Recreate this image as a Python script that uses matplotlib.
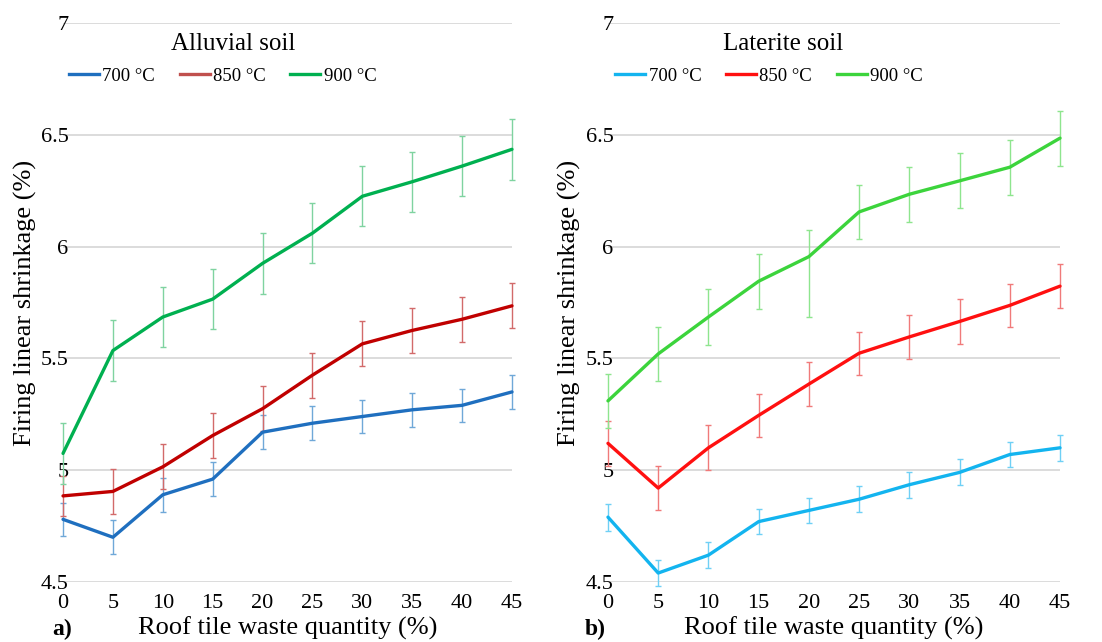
import matplotlib
matplotlib.use("Agg")
import matplotlib.pyplot as plt
from matplotlib.lines import Line2D
import numpy as np

plt.rcParams['font.family'] = ['Liberation Serif', 'DejaVu Serif']

waste = [0, 5, 10, 15, 20, 25, 30, 35, 40, 45]
series_labels = ['700 °C', '850 °C', '900 °C']

# Alluvial soil
alluvial_700 = [4.78, 4.70, 4.89, 4.96, 5.17, 5.21, 5.24, 5.27, 5.29, 5.35]
alluvial_700_err = [0.075, 0.075, 0.077, 0.075, 0.077, 0.075, 0.075, 0.076, 0.074, 0.075]
alluvial_850 = [4.885, 4.905, 5.015, 5.155, 5.275, 5.425, 5.565, 5.625, 5.675, 5.735]
alluvial_850_err = [0.09, 0.10, 0.10, 0.10, 0.10, 0.10, 0.10, 0.10, 0.10, 0.10]
alluvial_900 = [5.075, 5.535, 5.685, 5.765, 5.925, 6.06, 6.225, 6.29, 6.36, 6.435]
alluvial_900_err = [0.135, 0.135, 0.135, 0.135, 0.135, 0.135, 0.135, 0.135, 0.135, 0.135]

# Laterite soil
laterite_700 = [4.79, 4.54, 4.62, 4.77, 4.82, 4.87, 4.935, 4.99, 5.07, 5.10]
laterite_700_err = [0.06, 0.058, 0.058, 0.056, 0.056, 0.058, 0.058, 0.058, 0.058, 0.058]
laterite_850 = [5.12, 4.92, 5.10, 5.245, 5.385, 5.523, 5.596, 5.665, 5.737, 5.823]
laterite_850_err = [0.10, 0.097, 0.10, 0.097, 0.097, 0.097, 0.10, 0.10, 0.097, 0.097]
laterite_900 = [5.31, 5.52, 5.685, 5.845, 5.955, 6.155, 6.234, 6.294, 6.355, 6.485]
laterite_900_err_low = [0.12, 0.12, 0.125, 0.123, 0.27, 0.123, 0.123, 0.123, 0.123, 0.123]
laterite_900_err_high = [0.12, 0.12, 0.125, 0.12, 0.12, 0.122, 0.123, 0.123, 0.122, 0.123]

y_ticks = [4.5, 5, 5.5, 6, 6.5, 7]
y_tick_labels = ['4.5', '5', '5.5', '6', '6.5', '7']

fig = plt.figure(figsize=(11.02, 6.42), dpi=100)

panels = [
    dict(rect=[0.0572, 0.0935, 0.4074, 0.8707], title='Alluvial soil', tag='a)', tagx=0.047,
         lines=[alluvial_700, alluvial_850, alluvial_900],
         errs=[(alluvial_700_err, alluvial_700_err), (alluvial_850_err, alluvial_850_err),
               (alluvial_900_err, alluvial_900_err)],
         colors=['#1f6fbf', '#c00000', '#00b050'],
         legcolors=['#1f6fbf', '#c0504d', '#00b050'],
         errcolors=['#6fa8d8', '#d26a6a', '#7fd3a0'],
         titlex=0.379),
    dict(rect=[0.5517, 0.0935, 0.4102, 0.8707], title='Laterite soil', tag='b)', tagx=0.531,
         lines=[laterite_700, laterite_850, laterite_900],
         errs=[(laterite_700_err, laterite_700_err), (laterite_850_err, laterite_850_err),
               (laterite_900_err_low, laterite_900_err_high)],
         colors=['#13b4ef', '#ff1010', '#3cd43c'],
         legcolors=['#13b4ef', '#ff1010', '#3cd43c'],
         errcolors=['#6fd0f5', '#f07a7a', '#8ee58e'],
         titlex=0.387),
]

for p in panels:
    ax = fig.add_axes(p['rect'])
    for vals, (lo, hi), c, ec in zip(p['lines'], p['errs'], p['colors'], p['errcolors']):
        eb = ax.errorbar(waste, vals, yerr=[lo, hi], fmt='none', ecolor=ec, elinewidth=1.0,
                         capsize=2, capthick=1.0, zorder=2)
        for art in list(eb.lines[1]) + list(eb.lines[2]):
            art.set_clip_on(False)
        ax.plot(waste, vals, color=c, lw=2.4, zorder=3, solid_capstyle='round', clip_on=False)
    ax.set_xlim(0, 45)
    ax.set_ylim(4.5, 7)
    ax.set_xticks(waste)
    ax.set_xticklabels([str(w) for w in waste], fontsize=16)
    ax.set_yticks(y_ticks)
    ax.set_yticklabels(y_tick_labels, fontsize=16)
    ax.tick_params(axis='both', length=0)
    ax.tick_params(axis='y', pad=-4)
    ax.tick_params(axis='x', pad=9)
    for s in ax.spines.values():
        s.set_visible(False)
    ax.grid(axis='y', color='#d9d9d9', lw=1.3, zorder=0)
    ax.set_axisbelow(True)
    ax.set_ylabel('Firing linear shrinkage (%)', fontsize=19, labelpad=3)
    ax.set_xlabel('Roof tile waste quantity (%)', fontsize=19, labelpad=2)
    ax.text(p['titlex'], 0.963, p['title'], transform=ax.transAxes, ha='center', va='center',
            fontsize=18)
    handles = [Line2D([0], [0], color=c, lw=2.4) for c in p['legcolors']]
    ax.legend(handles, series_labels, loc='center', bbox_to_anchor=(0.356, 0.905), ncol=3,
              frameon=False, fontsize=13.5, handlelength=1.6, handletextpad=0.2,
              columnspacing=1.3)
    fig.text(p['tagx'], 0.02, p['tag'], ha='left', va='center', fontsize=17, fontweight='bold')

fig.savefig('out.png', dpi=100)
